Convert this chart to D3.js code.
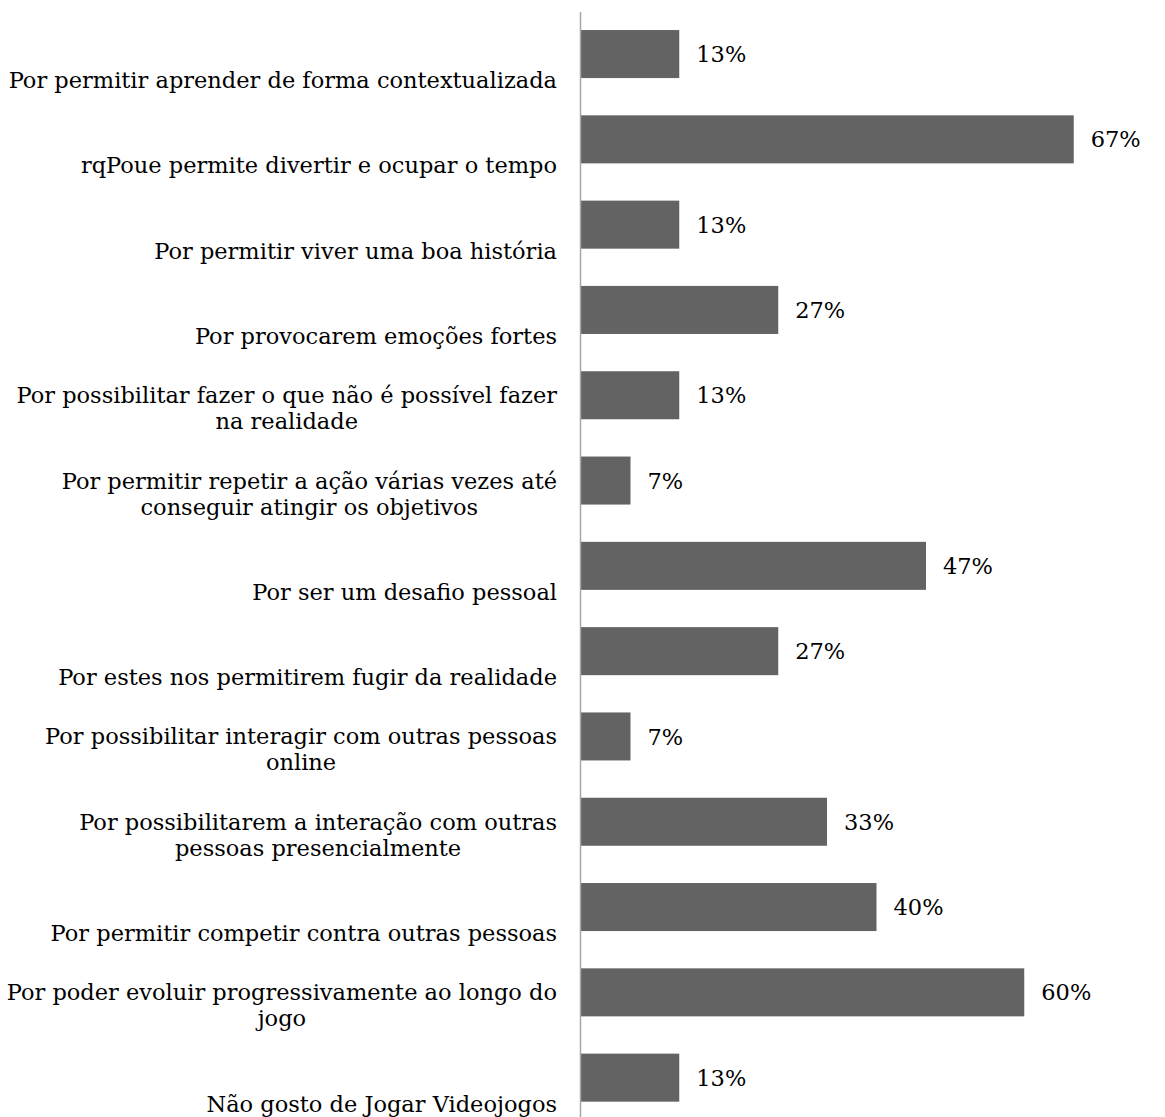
<!DOCTYPE html>
<html>
<head>
<meta charset="utf-8">
<script src="https://cdn.jsdelivr.net/npm/d3@7"></script>
<style>
  body { margin: 0; background: #fff; }
  text { font-family: 'DejaVu Serif', serif; fill: #000; }
</style>
</head>
<body>
<svg id="canvas" width="1165" height="1117"></svg>
<script>
// categories, top to bottom ('\n' marks where the label wraps)
let categories = [
    'Por permitir aprender de forma contextualizada',
    'rqPoue permite divertir e ocupar o tempo',
    'Por permitir viver uma boa história',
    'Por provocarem emoções fortes',
    'Por possibilitar fazer o que não é possível fazer\nna realidade',
    'Por permitir repetir a ação várias vezes até\nconseguir atingir os objetivos',
    'Por ser um desafio pessoal',
    'Por estes nos permitirem fugir da realidade',
    'Por possibilitar interagir com outras pessoas\nonline',
    'Por possibilitarem a interação com outras\npessoas presencialmente',
    'Por permitir competir contra outras pessoas',
    'Por poder evoluir progressivamente ao longo do\njogo',
    'Não gosto de Jogar Videojogos'
]

// percent of answers
let values = [13.3, 66.7, 13.3, 26.7, 13.3, 6.7, 46.7, 26.7, 6.7, 33.3, 40, 60, 13.3]

let canvas = d3.select('#canvas')

let axisX = 581
let labelRight = 557
let fontSize = 22.5
let lineHeight = 26

let xScale = d3.scaleLinear()
                .domain([0, 100])
                .range([axisX, axisX + 738.75])

let yScale = d3.scaleBand()
                .domain(d3.range(categories.length))
                .range([11.4, 11.4 + 85.3 * categories.length])
                .paddingInner(0.437)
                .paddingOuter(0.2185)

let data = categories.map((c, i) => {
    return {name: c, value: values[i], index: i}
})

// bars
canvas.selectAll('rect.bar')
        .data(data)
        .enter()
        .append('rect')
        .attr('class', 'bar')
        .attr('x', xScale(0))
        .attr('y', (d) => yScale(d.index))
        .attr('width', (d) => xScale(d.value) - xScale(0))
        .attr('height', yScale.bandwidth())
        .attr('fill', '#636363')

// value labels
canvas.selectAll('text.value')
        .data(data)
        .enter()
        .append('text')
        .attr('class', 'value')
        .attr('x', (d) => xScale(d.value) + 17)
        .attr('y', (d) => yScale(d.index) + yScale.bandwidth() / 2)
        .attr('dy', '0.36em')
        .style('font-size', fontSize + 'px')
        .text((d) => d3.format('.0%')(d.value / 100))

// category labels: block right-aligned, lines centred, last line sits below the bar centre
let labels = canvas.selectAll('g.label')
        .data(data)
        .enter()
        .append('g')
        .attr('class', 'label')

labels.each(function (d) {
    let g = d3.select(this)
    let lines = d.name.split('\n')
    let center = yScale(d.index) + yScale.bandwidth() / 2
    let lastBaseline = center + 34
    let texts = lines.map((line, j) => {
        return g.append('text')
                .attr('y', lastBaseline - (lines.length - 1 - j) * lineHeight)
                .attr('text-anchor', 'middle')
                .style('font-size', fontSize + 'px')
                .text(line)
    })
    let maxW = d3.max(texts, (t) => t.node().getComputedTextLength())
    texts.forEach((t) => t.attr('x', labelRight - maxW / 2))
})

// vertical axis line
canvas.append('line')
        .attr('x1', axisX - 0.5)
        .attr('x2', axisX - 0.5)
        .attr('y1', 12)
        .attr('y2', 1117)
        .attr('stroke', '#a6a6a6')
        .attr('stroke-width', 1.5)
</script>
</body>
</html>
